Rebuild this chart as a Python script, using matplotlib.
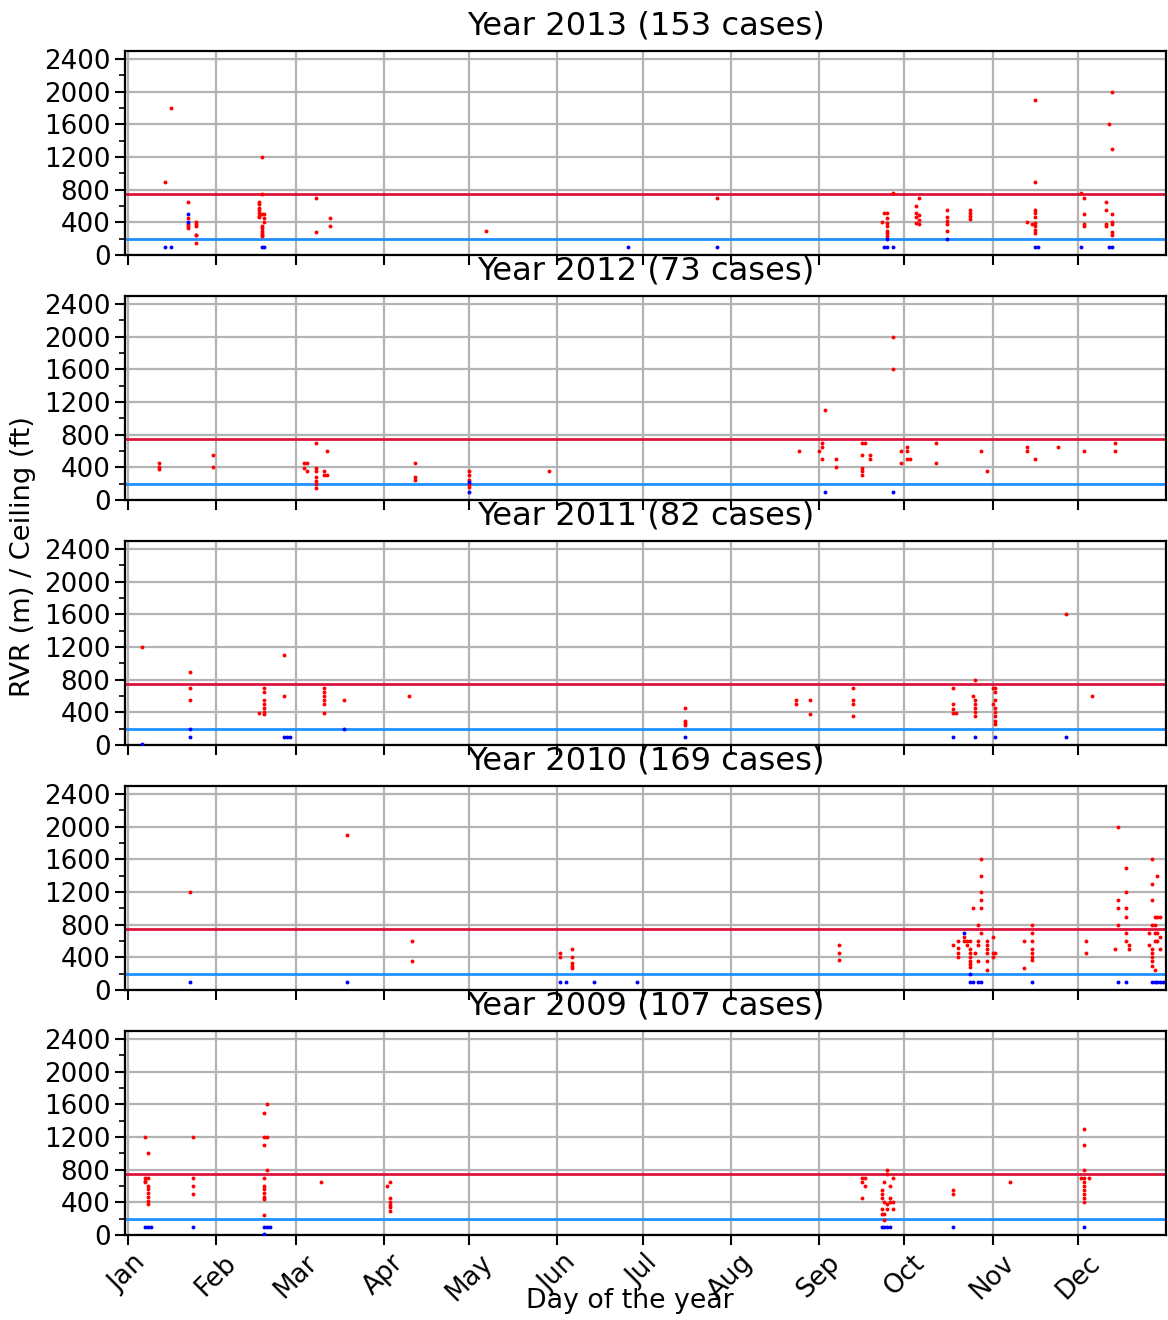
import matplotlib
matplotlib.use("Agg")
import matplotlib.pyplot as plt
from matplotlib.ticker import MultipleLocator

years = [2013, 2012, 2011, 2010, 2009]
cases = [153, 73, 82, 169, 107]
month_labels = ['Jan', 'Feb', 'Mar', 'Apr', 'May', 'Jun', 'Jul', 'Aug', 'Sep', 'Oct', 'Nov', 'Dec']
month_days = [1, 32, 60, 91, 121, 152, 182, 213, 244, 274, 305, 335]
rvr_limit = 750
ceil_limit = 200

red_2013 = [(14,900),(16,1800),
    (22,650),(22,450),(22,380),(22,350),(22,330),
    (25,400),(25,380),(25,350),(25,250),(25,240),(25,150),
    (48,1200),(48,750),(47,650),(47,620),(47,580),(47,550),(47,520),(47,480),(47,460),(48,500),(49,500),(49,450),(49,400),(48,350),(48,330),(48,300),(48,270),(48,250),(48,230),
    (67,700),(67,280),(72,450),(72,350),(127,300),(208,700),
    (267,510),(268,510),(268,450),(266,410),(268,395),(268,350),(268,300),(268,265),(268,230),(270,755),
    (279,700),(278,600),(278,510),(279,490),(278,460),(279,430),(278,395),(279,380),
    (289,550),(289,470),(289,420),(289,380),(289,300),
    (297,550),(297,510),(297,480),(297,440),
    (320,1900),(320,900),(320,550),(320,510),(320,470),(317,410),(320,390),(319,380),(320,350),(320,305),(320,275),
    (336,755),(337,700),(337,500),(337,380),(337,350),
    (347,2000),(346,1600),(347,1300),(345,650),(345,550),(347,500),(345,380),(345,350),(347,410),(347,380),(347,285),(347,245)]
blue_2013 = [(14,100),(16,100),(22,500),(22,400),(48,100),(49,100),(177,100),(208,100),(267,100),(268,100),(270,100),
    (268,190),(289,200),(320,100),(321,100),(336,100),(346,100),(347,100)]

red_2012 = [(12,450),(12,410),(12,380),(31,550),(31,400),
    (63,450),(64,450),(63,390),(64,350),
    (67,700),(67,390),(67,350),(67,285),(67,235),(67,190),(67,145),
    (71,600),(70,350),(71,305),(70,305),
    (102,450),(102,285),(102,245),
    (121,350),(121,305),(121,250),(121,195),(121,165),(149,350),
    (237,600),(244,600),(245,700),(245,650),(245,500),(246,1100),(250,500),(250,400),
    (259,700),(260,700),(259,550),(259,390),(259,350),(259,305),(262,550),(262,500),
    (270,2000),(270,1600),(273,600),(273,450),(275,650),(275,600),(275,500),(276,500),
    (285,700),(285,450),(301,600),(303,350),(317,650),(317,600),(320,500),(328,650),(337,600),(348,700),(348,600)]
blue_2012 = [(121,220),(121,100),(246,100),(270,100)]

red_2011 = [(6,1200),(23,900),(23,700),(23,550),
    (49,700),(49,650),(49,550),(49,500),(49,450),(49,400),(49,380),(47,390),
    (56,1100),(56,600),
    (70,700),(70,650),(70,600),(70,550),(70,500),(70,390),
    (77,550),(100,600),
    (197,450),(197,300),(197,275),(197,245),
    (236,550),(236,500),(241,550),(241,380),
    (256,700),(256,550),(256,500),(256,350),
    (291,700),(291,500),(291,440),(291,390),(292,390),
    (298,600),(299,800),(299,550),(299,500),(299,450),(299,400),(299,350),
    (305,700),(306,700),(306,650),(306,550),(305,500),(306,450),(306,400),(306,350),(306,300),(306,260),
    (331,1600),(340,600)]
blue_2011 = [(6,10),(23,100),(23,200),(56,100),(57,100),(58,100),(77,200),(197,100),(291,100),(299,100),(306,100),(331,100)]

red_2010 = [(23,1200),(78,1900),(101,600),(101,350),
    (153,450),(153,400),(157,500),(157,400),(157,330),(157,300),(157,270),
    (251,550),(251,450),(251,370),
    (291,550),(293,600),(293,510),(293,450),(293,400),(295,650),(295,600),(296,600),(297,600),(296,550),(297,500),(297,450),(297,400),(297,360),(297,320),(297,280),
    (298,1000),(299,450),(300,800),(300,600),(300,550),(300,350),
    (301,1600),(301,1400),(301,1200),(301,1100),(301,1000),(301,700),
    (303,600),(303,550),(303,500),(303,450),(303,350),(303,250),(305,650),(305,450),(305,400),(306,450),
    (316,600),(316,270),(319,800),(319,700),(319,600),(319,500),(319,450),(319,400),(319,370),
    (338,600),(338,450),
    (349,2000),(349,1100),(349,1000),(349,800),(348,500),(352,1500),(352,1200),(352,1000),(352,900),(352,700),(352,600),(353,550),(353,500),
    (361,1600),(361,1300),(361,1100),(361,800),(360,700),(360,550),(362,900),(362,800),(362,700),(362,600),(361,500),(361,450),(361,400),(361,350),(361,300),(362,250),
    (363,1400),(363,900),(363,700),(363,600),(364,900),(364,650),(364,500)]
blue_2010 = [(23,100),(78,100),(153,100),(155,100),(165,100),(180,100),(295,700),(297,200),(297,100),(298,100),(300,100),(301,100),
    (319,100),(349,100),(352,100),(361,100),(362,100),(363,100),(364,100),(365,100)]

red_2009 = [(7,1200),(8,1000),(7,700),(8,700),(7,650),(7,660),(8,600),(8,560),(8,510),(8,460),(8,420),(8,380),
    (24,1200),(24,700),(24,600),(24,500),
    (49,1500),(50,1600),(49,1200),(50,1200),(49,1100),(50,800),(49,700),(49,600),(49,560),(49,510),(49,460),(49,440),(49,250),
    (69,650),
    (92,600),(93,650),(93,450),(93,400),(93,370),(93,340),(93,300),
    (259,700),(260,700),(259,650),(260,600),(259,450),
    (268,800),(268,750),(270,700),(267,650),(269,600),(266,550),(266,500),(266,450),(269,450),(267,400),(268,380),(269,400),(270,400),
    (266,320),(268,320),(270,320),(266,255),(267,255),(267,185),
    (291,550),(291,500),(311,650),
    (337,1300),(337,1100),(337,800),(336,700),(337,700),(339,700),(337,650),(337,600),(337,550),(337,500),(337,450),(337,400)]
blue_2009 = [(7,100),(8,100),(9,100),(24,100),(49,100),(50,100),(51,100),(49,10),(266,100),(267,100),(268,100),(269,100),(291,100),(337,100)]

red_sets = [red_2013, red_2012, red_2011, red_2010, red_2009]
blue_sets = [blue_2013, blue_2012, blue_2011, blue_2010, blue_2009]

plt.rcParams['font.family'] = ['DejaVu Sans']
plt.rcParams['font.size'] = 18.8

W, H = 1168, 1320
fig = plt.figure(figsize=(W / 100, H / 100), dpi=100)

left_px, right_px = 125, 1166
for i in range(5):
    bottom_px = 255 + 245 * i
    ax = fig.add_axes([left_px / W, 1 - bottom_px / H, (right_px - left_px) / W, 204 / H])
    ax.grid(True, color='#b4b4b4', linewidth=1.6, zorder=0)
    ax.axhline(rvr_limit, color='crimson', linewidth=2, zorder=2)
    ax.axhline(ceil_limit, color='dodgerblue', linewidth=2, zorder=2)
    rx = [p[0] for p in red_sets[i]]
    ry = [p[1] for p in red_sets[i]]
    bx = [p[0] for p in blue_sets[i]]
    by = [p[1] for p in blue_sets[i]]
    ax.plot(rx, ry, 'o', color='red', markersize=2.8, markeredgewidth=0, zorder=3)
    ax.plot(bx, by, 'o', color='blue', markersize=2.8, markeredgewidth=0, zorder=3)
    ax.set_xlim(0, 366)
    ax.set_ylim(0, 2500)
    ax.yaxis.set_major_locator(MultipleLocator(400))
    ax.yaxis.set_minor_locator(MultipleLocator(200))
    ax.set_xticks(month_days)
    if i == 4:
        ax.set_xticklabels(month_labels, rotation=45, ha='center')
    else:
        ax.set_xticklabels([])
    ax.tick_params(axis='both', which='major', length=7, width=1.5, direction='out')
    ax.tick_params(axis='y', which='minor', length=4, width=1.2)
    for s in ax.spines.values():
        s.set_linewidth(1.6)
    ax.set_title(f"Year {years[i]} ({cases[i]} cases)", fontsize=23.1, pad=12)

fig.text(23 / W, 1 - 557 / H, 'RVR (m) / Ceiling (ft)', rotation=90, va='center', ha='center', fontsize=19.6)
fig.text(630 / W, 1 - 1301 / H, 'Day of the year', va='center', ha='center', fontsize=19.3)

fig.savefig('out.png', dpi=100)
